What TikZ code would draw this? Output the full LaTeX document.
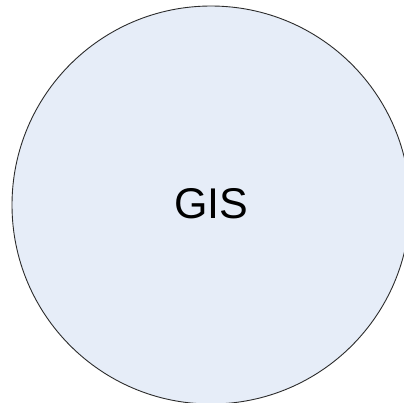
\documentclass[tikz,border=0pt]{standalone}
\usepackage{fontspec}
\setmainfont{Liberation Sans}
\definecolor{fillblue}{HTML}{E6EDF8}
\definecolor{edge}{HTML}{2B2B2B}
\begin{document}
\begin{tikzpicture}[x=1pt,y=-1pt,
  bubble/.style={circle,draw=edge,fill=fillblue,line width=0.9pt,minimum size=398pt,inner sep=0pt}]
\useasboundingbox (0,0) rectangle (404,402);
\clip (0,0) rectangle (404,402);
\node[bubble] (gis) at (211,205) {};
\node[font=\fontsize{43}{50}\selectfont,anchor=base,inner sep=0pt] (lbl) at (211.5,218) {GIS};
\end{tikzpicture}
\end{document}
